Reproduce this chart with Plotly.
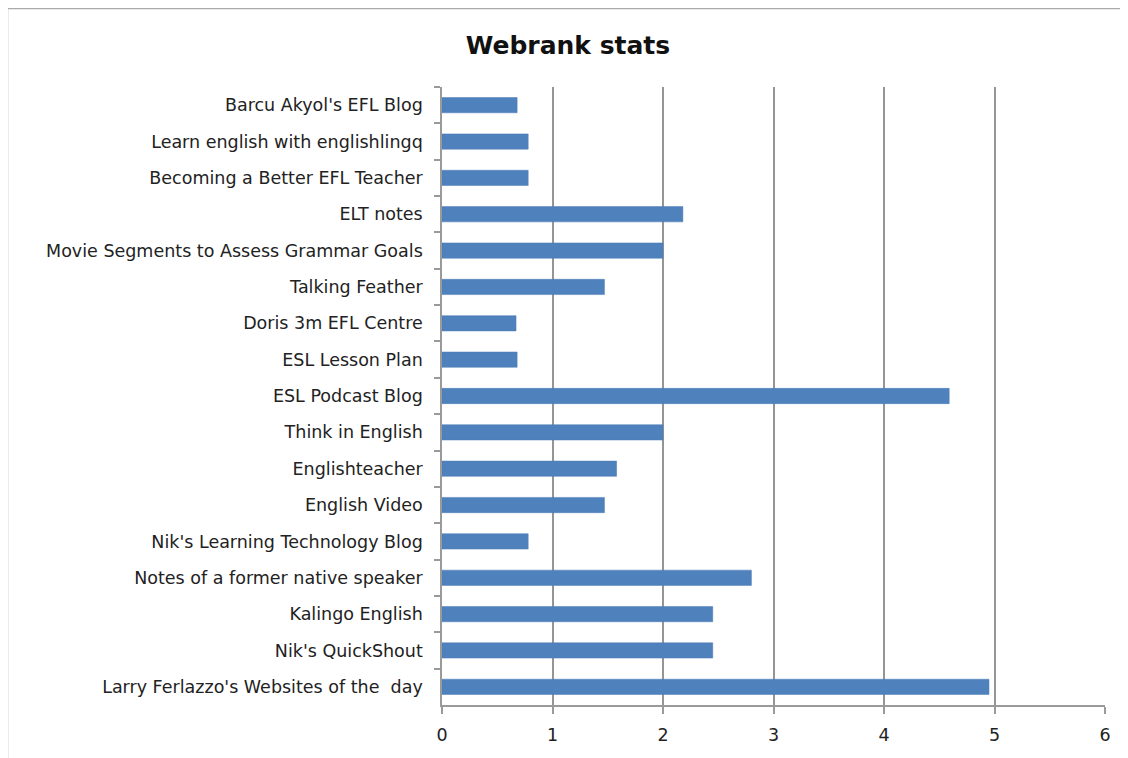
import plotly.graph_objects as go

categories = [
    "Barcu Akyol's EFL Blog",
    "Learn english with englishlingq",
    "Becoming a Better EFL Teacher",
    "ELT notes",
    "Movie Segments to Assess Grammar Goals",
    "Talking Feather",
    "Doris 3m EFL Centre",
    "ESL Lesson Plan",
    "ESL Podcast Blog",
    "Think in English",
    "Englishteacher",
    "English Video",
    "Nik's Learning Technology Blog",
    "Notes of a former native speaker",
    "Kalingo English",
    "Nik's QuickShout",
    "Larry Ferlazzo's Websites of the  day",
]
values = [0.68, 0.78, 0.78, 2.18, 2.0, 1.47, 0.67, 0.68, 4.59, 2.0, 1.58, 1.47, 0.78, 2.8, 2.45, 2.45, 4.95]
x_ticks = [0, 1, 2, 3, 4, 5, 6]

# page offset of 8px (browser body margin)
L, R, T, B = 434, 1097, 79, 697  # plot area in figure coords
W, H = 1128, 758

fig = go.Figure(go.Bar(
    x=values, y=categories, orientation="h",
    marker=dict(color="#4F81BD", line=dict(color="#4A7AB5", width=0.5)),
    width=0.42,
))

label_font = dict(family="DejaVu Sans, sans-serif", size=17.5, color="#222222")

fig.update_layout(
    width=W, height=H,
    margin=dict(l=L, r=W - R, t=T, b=H - B),
    paper_bgcolor="white", plot_bgcolor="white",
    showlegend=False,
    title=dict(text="<b>Webrank stats</b>", x=(568 - 8) / W, xref="container", xanchor="center",
               y=1 - (45 - 8) / H, yref="container", yanchor="middle",
               font=dict(family="DejaVu Sans, sans-serif", size=25, color="#111111")),
    xaxis=dict(range=[0, 6], tickvals=x_ticks, showgrid=True, gridcolor="#959595", gridwidth=1.5,
               showline=True, linecolor="#9a9a9a", linewidth=1.5,
               ticks="outside", ticklen=7, tickcolor="#9a9a9a", tickwidth=1.5,
               tickfont=label_font, zeroline=False, ticklabelstandoff=6),
    yaxis=dict(autorange="reversed", showline=True, linecolor="#9a9a9a", linewidth=1.5,
               ticks="outside", tickson="boundaries", ticklen=6, tickcolor="#9a9a9a", tickwidth=1.5,
               tickfont=label_font, showgrid=False, ticklabelstandoff=14),
    shapes=[
        dict(type="line", xref="paper", yref="paper", x0=(-1 - L) / (R - L), x1=(1140 - L) / (R - L),
             y0=1 + (T - 0) / (B - T), y1=1 + (T - 0) / (B - T), line=dict(color="#aaaaaa", width=2.5)),
        dict(type="line", xref="paper", yref="paper", x0=(-1 - L) / (R - L), x1=(-1 - L) / (R - L),
             y0=1 + (T - 0) / (B - T), y1=-0.2, line=dict(color="#aaaaaa", width=2.5)),
    ],
)

fig.write_html("out.html")
